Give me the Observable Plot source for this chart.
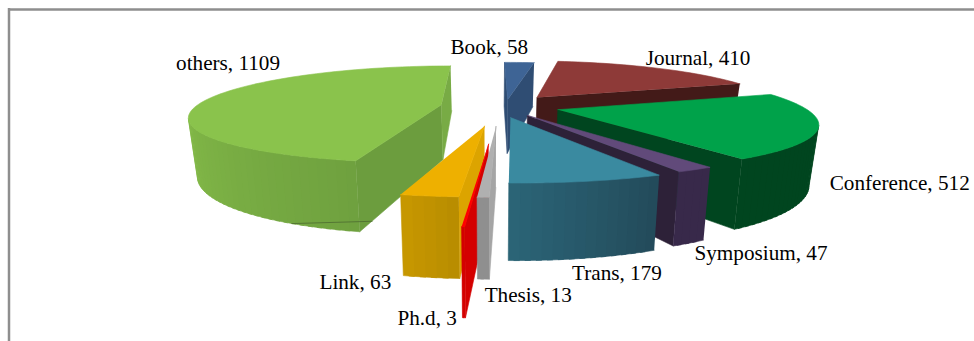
<!DOCTYPE html>
<html>
<head>
<meta charset="utf-8">
<script src="https://cdn.jsdelivr.net/npm/d3@7"></script>
<script src="https://cdn.jsdelivr.net/npm/@observablehq/plot@0.6"></script>
<style>
  html, body { margin: 0; padding: 0; background: #fff; }
  svg { display: block; }
</style>
</head>
<body>
<div id="chart"></div>
<script>
// Publication counts by venue type, clockwise from twelve o'clock.
const categories = ["Book", "Journal", "Conference", "Symposium", "Trans", "Thesis", "Ph.d", "Link", "others"];
const counts = [58, 410, 512, 47, 179, 13, 3, 63, 1109];

// How far each slice is pulled away from the pie centre, in radii,
// and a small sideways drift on top of that pull.
const explode = [0.14, 0.24, 0.24, 0.22, 0.24, 0.4, 0.7, 0.4, 0.24];
const drift = [0.025, 0.008, 0.006, 0, -0.01, 0, 0, 0, 0];
// Back-to-front drawing order.
const paintOrder = ["Book", "Journal", "others", "Conference", "Symposium", "Trans", "Link", "Ph.d", "Thesis"];

// top face, rim at first angle, rim at last angle, wall at first angle, wall at last angle
const shades = {
  Book:       ["#3e6495", "#2f4d73", "#2f4d73", "#2f4d73", "#2f4d73"],
  Journal:    ["#8e3a38", "#431a18", "#431a18", "#431a18", "#431a18"],
  Conference: ["#00a24a", "#00451f", "#00451f", "#00451f", "#00451f"],
  Symposium:  ["#614a7a", "#38294a", "#38294a", "#2d2138", "#2d2138"],
  Trans:      ["#3a8aa0", "#234a5a", "#2b6577", "#2b6577", "#2b6577"],
  Thesis:     ["#b0b0b0", "#8f8f8f", "#8f8f8f", "#a5a5a5", "#8f8f8f"],
  "Ph.d":     ["#ff0000", "#d40000", "#d40000", "#d40000", "#d40000"],
  Link:       ["#eeb000", "#b78c00", "#c89800", "#dca400", "#c89800"],
  others:     ["#8ac34c", "#6fa13f", "#a5e357", "#6c9d3e", "#78ab45"]
};

// Label placement relative to the middle of each slice's rim.
const labelNudge = {
  Book: [-30, -15], Journal: [40, -10], Conference: [81, 57], Symposium: [66, 84],
  Trans: [29, 92], Thesis: [45, 98], "Ph.d": [-36, 91], Link: [-74, 86], others: [21, -36]
};

// Perspective view of the pie: u runs right, v runs away from the viewer, z down the wall.
const view = {vx: 490, dx: 9, cy: 105.5, rx: 245, ry: 47, kx: 0.23, ky: 0.2, depth: 55.5, taper: 0.97};
function project(u, v, z) {
  const wx = 1 + view.kx * v;
  const wy = 1 + view.ky * v;
  const x = view.vx + (view.rx * u + view.dx) / wx * (z ? view.taper : 1);
  const y = view.cy - view.ry * v / wy + (z ? view.depth / wx : 0);
  return [x, y];
}

const rad = (deg) => deg * Math.PI / 180;
const total = d3.sum(counts);
const facets = [];
let facetId = 0;
function addFacet(corners, fill) {
  const id = facetId++;
  for (const [x, y] of corners) facets.push({id, x, y, fill});
}
function facing(q) {
  let s = 0;
  q.forEach(([x, y], i) => {
    const [x2, y2] = q[(i + 1) % q.length];
    s += x * y2 - x2 * y;
  });
  return s < 0;
}

// Build every slice as a prism from the angles its count gives it.
let sweep = 0;
const slices = categories.map((name, i) => {
  const a0 = sweep;
  sweep += counts[i] / total * 360;
  return {name, i, a0, a1: sweep, mid: (a0 + sweep) / 2, pull: explode[i], side: drift[i]};
});
const rimPoint = (s, deg, z, r = 1) => project(
  r * Math.sin(rad(deg)) + s.pull * Math.sin(rad(s.mid)) + s.side,
  r * Math.cos(rad(deg)) + s.pull * Math.cos(rad(s.mid)),
  z
);

const bySlice = new Map(slices.map((s) => [s.name, s]));
for (const name of paintOrder) {
  const s = bySlice.get(name);
  const [top, rim0, rim1, wall0, wall1] = shades[name];
  const steps = Math.max(2, Math.ceil((s.a1 - s.a0) / 2));
  const stepSize = (s.a1 - s.a0) / steps;
  const angles = d3.range(steps + 1).map((k) => s.a0 + stepSize * k);
  const apexTop = rimPoint(s, 0, 0, 0);
  const apexBottom = rimPoint(s, 0, 1, 0);

  const first = [apexTop, rimPoint(s, s.a0, 0), rimPoint(s, s.a0, 1), apexBottom];
  if (facing(first)) addFacet(first, wall0);
  const last = [rimPoint(s, s.a1, 0), apexTop, apexBottom, rimPoint(s, s.a1, 1)];
  if (facing(last)) addFacet(last, wall1);

  // Rim bands overlap the next one a little so no gap shows between them.
  const blend = d3.interpolateRgb(rim0, rim1);
  for (let k = 0; k < steps; k++) {
    const from = angles[k];
    const to = Math.min(s.a1, angles[k + 1] + stepSize / 2);
    const q = [rimPoint(s, from, 0), rimPoint(s, to, 0), rimPoint(s, to, 1), rimPoint(s, from, 1)];
    if (facing(q)) addFacet(q, d3.color(blend((k + 0.5) / steps)).formatHex());
  }
  addFacet([apexTop, ...angles.map((a) => rimPoint(s, a, 0))], top);
}

const others = bySlice.get("others");
const seam = [rimPoint(others, 208, 1), rimPoint(others, others.a0, 1, 0.88)].map(([x, y]) => ({x, y}));

const labels = slices.map((s) => {
  const [x, y] = rimPoint(s, s.mid, 0);
  const [nx, ny] = labelNudge[s.name];
  return {x: x + nx, y: y + ny, text: `${s.name}, ${counts[s.i]}`};
});

const chart = Plot.plot({
  width: 974,
  height: 341,
  margin: 0,
  x: {domain: [0, 974], range: [0, 974], axis: null},
  y: {domain: [0, 341], range: [0, 341], axis: null},
  color: {type: "identity"},
  marks: [
    Plot.ruleY([9], {x1: 8, x2: 974, stroke: "#8e8e8e", strokeWidth: 2.5}),
    Plot.ruleX([8.5], {y1: 8, y2: 341, stroke: "#8e8e8e", strokeWidth: 2.5}),
    Plot.line(facets, {x: "x", y: "y", z: "id", fill: "fill", stroke: "fill", strokeWidth: 0.6, curve: "linear"}),
    Plot.line(seam, {x: "x", y: "y", stroke: "#4c6b30", strokeWidth: 0.8}),
    Plot.text(labels, {x: "x", y: "y", text: "text", textAnchor: "middle", fontFamily: "Liberation Serif", fontSize: 21.2, fill: "#000"})
  ]
});
document.getElementById("chart").append(chart);
</script>
</body>
</html>
